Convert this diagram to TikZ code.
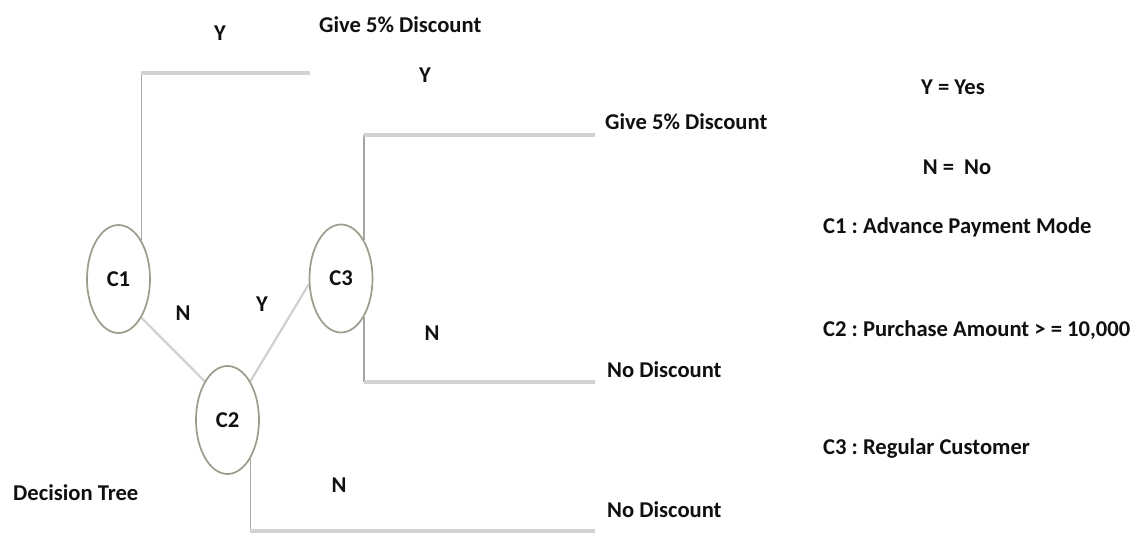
\documentclass[tikz,border=0pt]{standalone}
\usepackage{fontspec}
\setmainfont{Carlito}
\usetikzlibrary{shapes.geometric,backgrounds}
\definecolor{hgray}{HTML}{D2D2D2}
\definecolor{vgray}{HTML}{A4A4A4}
\definecolor{dgray}{HTML}{D0D0D0}
\definecolor{egreen}{HTML}{95A087}
\definecolor{txt}{HTML}{101010}
\tikzset{
  every node/.style={font=\fontsize{22.6}{26}\selectfont\bfseries\frenchspacing, text=txt, inner sep=0pt},
  cond/.style={ellipse, draw=egreen, line width=1.7pt, fill=white, minimum width=63pt, minimum height=108pt},
  hline/.style={draw=hgray, line width=3.2pt},
  vline/.style={draw=vgray, line width=1.3pt},
  dline/.style={draw=dgray, line width=2.2pt},
  leaf/.style={anchor=west},
  legend/.style={anchor=west}
}
\begin{document}
\begin{tikzpicture}[x=1pt,y=-1pt]
\useasboundingbox (0,0) rectangle (1139,537);
% condition nodes
\node[cond] (C1) at (118.5,279) {C1};
\node[cond] (C2) at (227.5,420) {C2};
\node[cond] (C3) at (341,278.5) {C3};
% leaves
\node[leaf] (L1) at (319,25) {Give 5\% Discount};
\node[leaf] (L2) at (605,122) {Give 5\% Discount};
\node[leaf] (L3) at (607,370) {No Discount};
\node[leaf] (L4) at (607,510) {No Discount};
% branch ends
\coordinate (e1) at (310,73);
\coordinate (e2) at (595,135);
\coordinate (e3) at (595,382);
\coordinate (e4) at (595,531);
% branch labels
\node (y1) at (220,33) {Y};
\node (y2) at (425,75) {Y};
\node (n1) at (183,313) {N};
\node (y3) at (262,304) {Y};
\node (n2) at (432,333) {N};
\node (n3) at (339,485) {N};
\node[anchor=west] (title) at (13,493) {Decision Tree};
% legend
\node (lgY) at (953,87) {Y = Yes};
\node (lgN) at (957,167) {N =\ \ No};
\node[legend] (lg1) at (823,227) {C1 : Advance Payment Mode};
\node[legend] (lg2) at (823,330) {C2 : Purchase Amount > = 10,000};
\node[legend] (lg3) at (823,448) {C3 : Regular Customer};
% connectors
\begin{scope}[on background layer]
\draw[vline] (C1.north east) -- (C1.north east |- e1);
\draw[hline] (C1.north east |- e1) -- (e1);
\draw[vline] (C3.north east) -- (C3.north east |- e2);
\draw[hline] (C3.north east |- e2) -- (e2);
\draw[vline] (C3.south east) -- (C3.south east |- e3);
\draw[hline] (C3.south east |- e3) -- (e3);
\draw[vline] (C2.south east) -- (C2.south east |- e4);
\draw[hline] (C2.south east |- e4) -- (e4);
\draw[dline] (C1.south east) -- (C2.north west);
\draw[dline] (C2.north east) -- (C3.190);
\end{scope}
\end{tikzpicture}
\end{document}
